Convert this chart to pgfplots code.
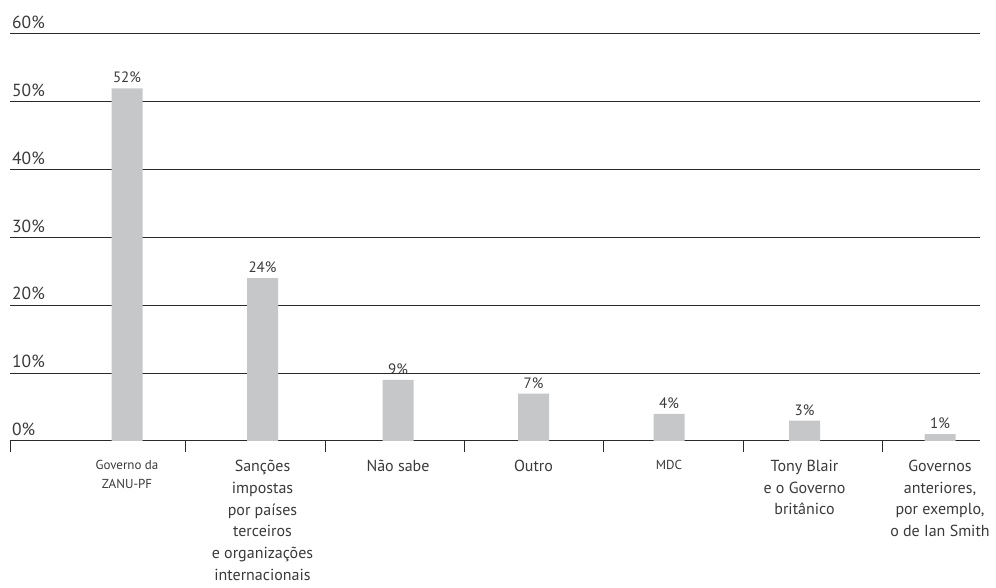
\documentclass[border=0pt]{standalone}
\usepackage{pgfplots}
\pgfplotsset{compat=1.18}
\usepackage{fontspec}
\setmainfont{PT Sans}
\definecolor{txt}{HTML}{3A3A3A}
\definecolor{barc}{HTML}{C6C7C9}
\definecolor{gridc}{HTML}{2A2A2A}
\newcommand{\sm}{\fontsize{13}{18}\selectfont}
\begin{document}
\begin{tikzpicture}
\path[use as bounding box] (-10pt,-147pt) rectangle (986pt,441pt);
\begin{axis}[
  scale only axis,
  width=970pt, height=407pt,
  xmin=10, xmax=980, ymin=0, ymax=60,
  enlargelimits=false,
  axis line style={draw=none},
  ytick={0,10,20,30,40,50,60},
  yticklabel={\pgfmathprintnumber{\tick}\%},
  yticklabel style={anchor=south west, inner sep=0pt, xshift=2pt, yshift=5pt, font=\fontsize{17.5}{20}\selectfont, text=txt},
  /pgf/number format/assume math mode=true,
  ymajorgrids,
  major grid style={gridc, line width=1pt},
  major tick length=0pt,
  xtick pos=bottom, ytick pos=left,
  xtick={127,262.5,398,533.5,669,804.5,940},
  xticklabels={
    {\sm Governo da\\[-3pt]\sm ZANU-PF},
    {Sanções\\impostas\\por países\\terceiros\\e organizações\\internacionais},
    {Não sabe},
    {Outro},
    {\sm MDC},
    {Tony Blair\\e o Governo\\britânico},
    {Governos\\anteriores,\\por exemplo,\\o de Ian Smith}},
  xticklabel style={anchor=north, align=center, inner sep=0pt, yshift=-19pt, font=\fontsize{16}{21.7}\selectfont, text=txt},
  extra x ticks={10,185,325,464,603,743,882},
  extra x tick labels={},
  extra x tick style={grid=none, major tick length=11pt, tick align=outside, tick style={gridc, line width=0.8pt}},
  nodes near coords={\pgfmathprintnumber{\pgfplotspointmeta}\%},
  nodes near coords style={font=\fontsize{15}{17}\selectfont, text=txt, inner sep=0pt, anchor=south, yshift=5pt},
  clip=false,
]
\addplot[ybar, bar width=31pt, fill=barc, draw=none] coordinates {
  (127,52) (262.5,24) (398,9) (533.5,7) (669,4) (804.5,3) (940,1)
};
\end{axis}
\end{tikzpicture}
\end{document}
